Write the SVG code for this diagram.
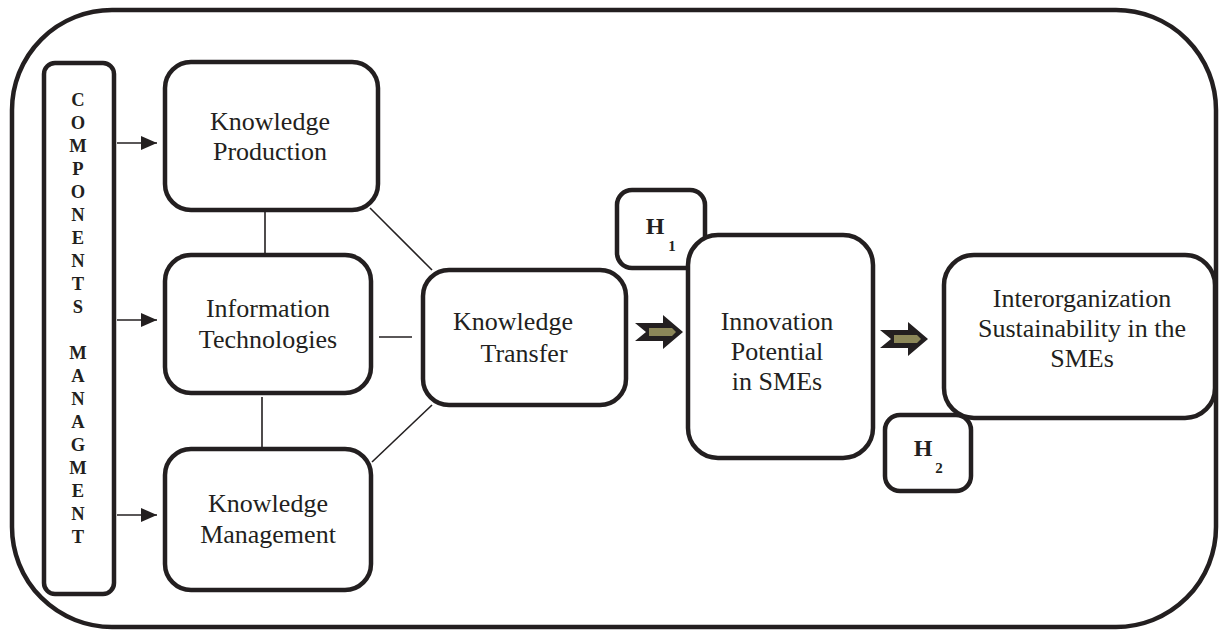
<svg xmlns="http://www.w3.org/2000/svg" width="1221" height="632" viewBox="0 0 1221 632">
<style>
.box{fill:#fff;stroke:#231f20;stroke-width:4.5}
.frame{fill:#fff;stroke:#231f20;stroke-width:4.5}
.ln{stroke:#231f20;stroke-width:1.6;fill:none}
.lbl{font-family:"Liberation Serif","Times New Roman",serif;font-size:26px;fill:#231f20;text-anchor:middle}
.vert{font-family:"Liberation Serif","Times New Roman",serif;font-size:18.5px;font-weight:bold;fill:#231f20;text-anchor:middle}
.h{font-family:"Liberation Serif","Times New Roman",serif;font-weight:bold;fill:#231f20}
.blk{fill:#231f20}
.olv{fill:#8c8759}
</style>
<defs>
<marker id="ah" viewBox="0 0 16 14" refX="16" refY="7" markerWidth="16" markerHeight="14" markerUnits="userSpaceOnUse" orient="auto">
<path d="M0,0 L16,7 L0,14 Z" fill="#231f20"/>
</marker>
</defs>
<rect class="frame" x="12" y="10" width="1204" height="617" rx="100" ry="100"/>

<g id="connectors">
<line class="ln" x1="117" y1="143" x2="157" y2="143" marker-end="url(#ah)"/>
<line class="ln" x1="117" y1="320" x2="157" y2="320" marker-end="url(#ah)"/>
<line class="ln" x1="117" y1="515" x2="157" y2="515" marker-end="url(#ah)"/>
<line class="ln" x1="265" y1="212" x2="265" y2="253"/>
<line class="ln" x1="262" y1="397" x2="262" y2="447"/>
<line class="ln" x1="379" y1="337" x2="412" y2="337"/>
<line class="ln" x1="370" y1="208" x2="432" y2="270"/>
<line class="ln" x1="372" y1="462" x2="432" y2="405"/>
<g id="bigarrow1">
<polygon class="blk" points="635,323 663,323 663,315 683,332 663,349 663,341 635,341 646,332"/>
<polygon class="olv" points="649,328 672,328 676,332 672,336 649,336"/>
</g>
<g id="bigarrow2">
<polygon class="blk" points="880,330 908,330 908,322 928,339 908,356 908,348 880,348 891,339"/>
<polygon class="olv" points="894,335 917,335 921,339 917,343 894,343"/>
</g>
</g>

<g id="components">
<rect class="box" x="44" y="63" width="70" height="531" rx="11" ry="11"/>
<text class="vert" x="78" y="106">C<tspan x="78" dy="23">O</tspan><tspan x="78" dy="23">M</tspan><tspan x="78" dy="23">P</tspan><tspan x="78" dy="23">O</tspan><tspan x="78" dy="23">N</tspan><tspan x="78" dy="23">E</tspan><tspan x="78" dy="23">N</tspan><tspan x="78" dy="23">T</tspan><tspan x="78" dy="23">S</tspan><tspan x="78" dy="46">M</tspan><tspan x="78" dy="23">A</tspan><tspan x="78" dy="23">N</tspan><tspan x="78" dy="23">A</tspan><tspan x="78" dy="23">G</tspan><tspan x="78" dy="23">M</tspan><tspan x="78" dy="23">E</tspan><tspan x="78" dy="23">N</tspan><tspan x="78" dy="23">T</tspan></text>
</g>

<g id="knowledge-production">
<rect class="box" x="165" y="62" width="213" height="148" rx="26" ry="26"/>
<text class="lbl" x="270" y="130">Knowledge</text>
<text class="lbl" x="270" y="160">Production</text>
</g>

<g id="information-technologies">
<rect class="box" x="165" y="255" width="206" height="138" rx="26" ry="26"/>
<text class="lbl" x="268" y="317">Information</text>
<text class="lbl" x="268" y="348">Technologies</text>
</g>

<g id="knowledge-management">
<rect class="box" x="165" y="449" width="206" height="141" rx="26" ry="26"/>
<text class="lbl" x="268" y="512">Knowledge</text>
<text class="lbl" x="268" y="543">Management</text>
</g>

<g id="knowledge-transfer">
<rect class="box" x="423" y="270" width="203" height="135" rx="26" ry="26"/>
<text class="lbl" x="513" y="330">Knowledge</text>
<text class="lbl" x="524" y="362">Transfer</text>
</g>

<g id="h1">
<rect class="box" x="617" y="190" width="88" height="78" rx="15" ry="15"/>
<text class="h" x="655" y="234" font-size="24" text-anchor="middle">H</text>
<text class="h" x="672" y="251" font-size="15" text-anchor="middle">1</text>
</g>

<g id="innovation-potential">
<rect class="box" x="688" y="235" width="185" height="223" rx="30" ry="30"/>
<text class="lbl" x="777" y="330">Innovation</text>
<text class="lbl" x="777" y="360">Potential</text>
<text class="lbl" x="777" y="390">in SMEs</text>
</g>

<g id="interorganization-sustainability">
<rect class="box" x="944" y="255" width="271" height="163" rx="30" ry="30"/>
<text class="lbl" x="1082" y="307">Interorganization</text>
<text class="lbl" x="1082" y="337">Sustainability in the</text>
<text class="lbl" x="1082" y="367">SMEs</text>
</g>

<g id="h2">
<rect class="box" x="885" y="415" width="86" height="76" rx="15" ry="15"/>
<text class="h" x="923" y="456" font-size="24" text-anchor="middle">H</text>
<text class="h" x="939" y="473" font-size="15" text-anchor="middle">2</text>
</g>
</svg>
